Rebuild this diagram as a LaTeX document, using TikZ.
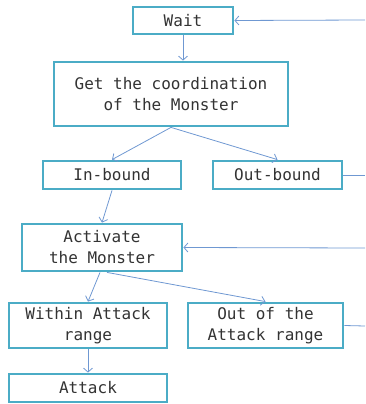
\documentclass[tikz,border=0pt]{standalone}
\usepackage{fontspec}
\newfontfamily\boxfont{DejaVu Sans Mono}
\usetikzlibrary{positioning, arrows.meta}
\definecolor{boxline}{HTML}{4BACC6}
\definecolor{flowline}{HTML}{6F98D2}

\begin{document}
\begin{tikzpicture}[
        x=1pt, y=-1pt,
        >={Straight Barb[length=4pt,width=9pt]},
        state/.style={draw=boxline, line width=2.8pt, fill=white, inner sep=0pt,
            align=center, text=black!80, font=\boxfont\fontsize{16}{21}\selectfont},
        flow/.style={->, draw=flowline, line width=0.8pt},
    ]
        \useasboundingbox (0,0) rectangle (365,404);

        % Draw the states
        \node[state, minimum width=100pt, minimum height=27pt] (wait) at (183,20.5) {Wait};
        \node[state, minimum width=234pt, minimum height=64pt] (getco) at (171,94) {Get the coordination\\of the Monster};
        \node[state, minimum width=138pt, minimum height=28pt] (inb) at (112,175) {In-bound};
        \node[state, minimum width=129pt, minimum height=28pt] (outb) at (277.5,175) {Out-bound};
        \node[state, minimum width=160pt, minimum height=47pt] (act) at (102,247.5) {Activate\\the Monster};
        \node[state, minimum width=158pt, minimum height=45pt] (within) at (88,325.5) {Within Attack\\range};
        \node[state, minimum width=155pt, minimum height=45pt] (outatk) at (265.5,325.5) {Out of the\\Attack range};
        \node[state, minimum width=158pt, minimum height=28pt] (attack) at (88,388) {Attack};

        % Loose ends at the right border
        \coordinate (waitin) at (365,20);
        \coordinate (actin) at (365,248);
        \coordinate (outbend) at (365,175);
        \coordinate (outatkend) at (365,326);

        % Connect the states
        \draw[flow] (wait.south) -- (wait.south |- getco.north);
        \draw[flow] (getco.south) -- (inb.north);
        \draw[flow] (getco.south) -- (outb.north);
        \draw[flow] (inb.south) -- (act.north);
        \draw[flow] ([xshift=-2pt]act.south) -- (within.north);
        \draw[flow] ([xshift=5pt]act.south) -- (outatk.north);
        \draw[flow] (within.south) -- (attack.north);

        % Lines coming back from the right
        \draw[flow, -] (outb.east) -- (outbend);
        \draw[flow, -] (outatk.east) -- (outatkend);
        \draw[flow] (waitin) -- (wait.east);
        \draw[flow] (actin) -- (act.east);
\end{tikzpicture}
\end{document}
